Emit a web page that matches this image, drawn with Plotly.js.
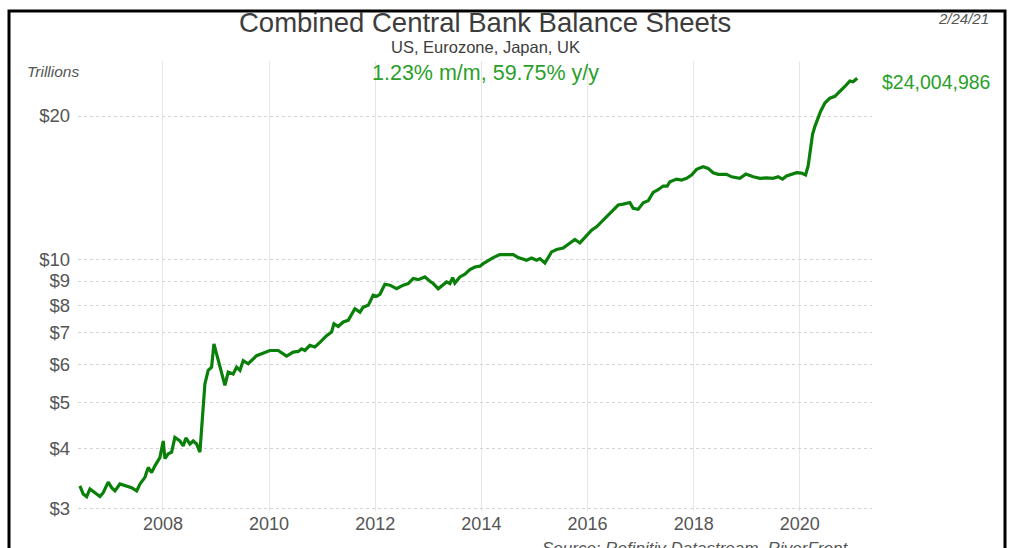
<!DOCTYPE html>
<html>
<head>
<meta charset="utf-8">
<script src="https://cdn.plot.ly/plotly-3.0.1.min.js"></script>
<style>html,body{margin:0;padding:0;background:#fff;}#chart{width:1011px;height:548px;}</style>
</head>
<body>
<div id="chart"></div>
<script>
// Decimal-year dates
var years = [
2006.436,2006.498,2006.563,2006.625,2006.751,2006.813,2006.875,2006.969,2007.034,2007.096,
2007.190,2007.316,2007.410,2007.505,2007.567,2007.661,2007.723,2007.787,2007.849,2007.943,
2008.006,2008.038,2008.100,2008.164,2008.226,2008.320,2008.382,2008.433,2008.509,2008.571,
2008.635,2008.697,2008.759,2008.791,2008.853,2008.917,2008.961,2009.012,2009.061,2009.125,
2009.168,2009.230,2009.324,2009.388,2009.451,2009.513,2009.607,2009.765,2009.890,2010.016,
2010.172,2010.330,2010.455,2010.549,2010.613,2010.675,2010.769,2010.864,2010.958,2011.084,
2011.178,2011.222,2011.303,2011.397,2011.491,2011.617,2011.711,2011.774,2011.868,2011.962,
2012.026,2012.088,2012.182,2012.277,2012.403,2012.527,2012.621,2012.716,2012.810,2012.936,
2013.030,2013.092,2013.187,2013.281,2013.345,2013.407,2013.458,2013.501,2013.595,2013.690,
2013.784,2013.878,2013.972,2014.034,2014.129,2014.223,2014.349,2014.475,2014.600,2014.694,
2014.758,2014.852,2014.946,2015.040,2015.103,2015.197,2015.323,2015.417,2015.541,2015.668,
2015.762,2015.856,2015.950,2016.076,2016.170,2016.295,2016.389,2016.483,2016.578,2016.672,
2016.798,2016.860,2016.954,2017.049,2017.143,2017.237,2017.331,2017.425,2017.501,2017.552,
2017.678,2017.772,2017.866,2017.960,2018.055,2018.179,2018.273,2018.367,2018.461,2018.620,
2018.714,2018.870,2018.983,2019.121,2019.247,2019.373,2019.498,2019.592,2019.675,2019.750,
2019.844,2019.938,2020.033,2020.108,2020.157,2020.202,2020.240,2020.283,2020.346,2020.391,
2020.472,2020.566,2020.660,2020.755,2020.849,2020.943,2021.005,2021.081
];
// Combined balance sheets, trillions of USD
var balance = [
3.34,3.21,3.17,3.29,3.21,3.17,3.23,3.40,3.31,3.26,
3.37,3.34,3.31,3.26,3.37,3.48,3.65,3.56,3.68,3.83,
4.15,3.81,3.90,3.93,4.22,4.15,4.05,4.21,4.09,4.15,
4.09,3.93,4.97,5.47,5.84,5.93,6.64,6.33,6.03,5.65,
5.43,5.79,5.74,5.93,5.84,6.12,6.03,6.27,6.35,6.43,
6.43,6.26,6.38,6.40,6.48,6.43,6.59,6.54,6.69,6.91,
7.03,7.32,7.22,7.38,7.44,7.87,7.74,7.93,8.00,8.40,
8.36,8.44,8.86,8.82,8.67,8.82,8.89,9.11,9.06,9.18,
8.99,8.89,8.67,8.82,8.96,8.89,9.15,8.91,9.18,9.30,
9.51,9.63,9.67,9.79,9.95,10.08,10.23,10.21,10.23,10.08,
10.03,9.95,10.06,9.95,10.03,9.82,10.36,10.48,10.56,10.79,
11.00,10.82,11.10,11.51,11.70,12.12,12.38,12.68,13.00,13.06,
13.16,12.79,12.73,13.14,13.27,13.82,14.00,14.25,14.25,14.55,
14.74,14.67,14.79,15.03,15.45,15.65,15.52,15.20,15.08,15.08,
14.90,14.79,15.10,14.90,14.79,14.83,14.79,14.90,14.74,14.96,
15.08,15.20,15.17,15.03,15.70,17.30,18.30,19.00,19.97,20.45,
21.30,21.80,22.00,22.50,23.07,23.70,23.60,24.00
];
var xTickVals = [2008,2010,2012,2014,2016,2018,2020];
var xTickText = ['2008','2010','2012','2014','2016','2018','2020'];
var yTickVals = [3,4,5,6,7,8,9,10,20];
var yTickText = ['$3','$4','$5','$6','$7','$8','$9','$10','$20'];
var titleText = 'Combined Central Bank Balance Sheets';
var subtitleText = 'US, Eurozone, Japan, UK';
var changeText = '1.23% m/m, 59.75% y/y';
var lastValueText = '$24,004,986';
var unitText = 'Trillions';
var dateText = '2/24/21';
var sourceText = 'Source: Refinitiv Datastream, RiverFront';

var FONT = 'Liberation Sans, Arial, sans-serif';
var GREEN_TXT = '#2a9f2a';

var trace = {
  x: years, y: balance, type: 'scatter', mode: 'lines',
  line: {color: '#0a800a', width: 3.2}, hoverinfo: 'skip', showlegend: false
};

var layout = {
  width: 1011, height: 548,
  margin: {l: 78, r: 139, t: 61, b: 37, pad: 0},
  paper_bgcolor: '#ffffff', plot_bgcolor: '#ffffff',
  font: {family: FONT, color: '#555555'},
  xaxis: {
    type: 'linear', range: [2006.40, 2021.36],
    tickmode: 'array', tickvals: xTickVals, ticktext: xTickText,
    showgrid: true, gridcolor: '#e6e6e6', gridwidth: 1,
    zeroline: false, showline: false, ticks: '',
    tickfont: {family: FONT, size: 18, color: '#555555'}
  },
  yaxis: {
    type: 'log', range: [Math.log10(2.957), Math.log10(26.1)],
    tickmode: 'array', tickvals: yTickVals, ticktext: yTickText,
    showgrid: true, gridcolor: '#d4d4d4', gridwidth: 1, griddash: 'dot',
    zeroline: false, showline: false, ticks: '', ticklabelstandoff: 7,
    tickfont: {family: FONT, size: 18.5, color: '#555555'}
  },
  shapes: [{
    type: 'rect', xref: 'paper', yref: 'paper',
    x0: -0.0869, x1: 1.1675, y0: -0.25, y1: 1.111,
    line: {color: '#000000', width: 3}, fillcolor: 'rgba(0,0,0,0)'
  }],
  annotations: [
    {text: titleText, xref: 'paper', yref: 'paper', x: 0.5126, y: 1.0845,
     xanchor: 'center', yanchor: 'middle', showarrow: false,
     font: {family: FONT, size: 27.5, color: '#3d3d3d'}},
    {text: subtitleText, xref: 'paper', yref: 'paper', x: 0.5126, y: 1.031,
     xanchor: 'center', yanchor: 'middle', showarrow: false,
     font: {family: FONT, size: 16.5, color: '#3d3d3d'}},
    {text: changeText, xref: 'paper', yref: 'paper', x: 0.5126, y: 0.9733,
     xanchor: 'center', yanchor: 'middle', showarrow: false,
     font: {family: FONT, size: 21.5, color: GREEN_TXT}},
    {text: lastValueText, xref: 'paper', yref: 'paper', x: 1.0101, y: 0.9533,
     xanchor: 'left', yanchor: 'middle', showarrow: false,
     font: {family: FONT, size: 19.5, color: GREEN_TXT}},
    {text: '<i>' + unitText + '</i>', xref: 'paper', yref: 'paper', x: -0.0668, y: 0.9756,
     xanchor: 'left', yanchor: 'middle', showarrow: false,
     font: {family: FONT, size: 15.5, color: '#555555'}},
    {text: '<i>' + dateText + '</i>', xref: 'paper', yref: 'paper', x: 1.1499, y: 1.0955,
     xanchor: 'right', yanchor: 'middle', showarrow: false,
     font: {family: FONT, size: 15, color: '#555555'}},
    {text: '<i>' + sourceText + '</i>', xref: 'paper', yref: 'paper', x: 0.5819, y: -0.058,
     xanchor: 'left', yanchor: 'top', showarrow: false,
     font: {family: FONT, size: 17, color: '#555555'}}
  ]
};

Plotly.newPlot('chart', [trace], layout, {displayModeBar: false, staticPlot: true});
</script>
</body>
</html>
